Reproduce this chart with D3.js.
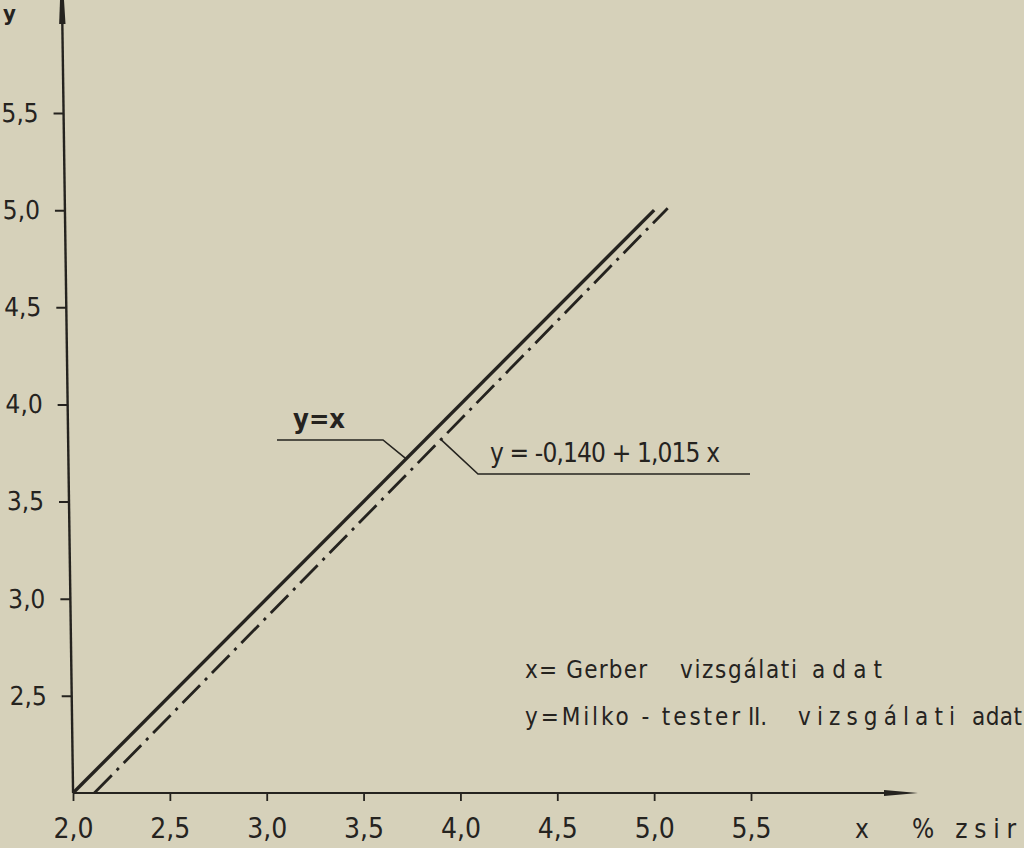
<!DOCTYPE html>
<html>
<head>
<meta charset="utf-8">
<script src="https://cdn.jsdelivr.net/npm/d3@7"></script>
<style>
  html, body { margin: 0; padding: 0; background: #d6d1ba; }
  svg { display: block; }
  text { font-family: "DejaVu Sans Condensed", "DejaVu Sans", sans-serif; font-stretch: condensed; fill: #25231f; }
</style>
</head>
<body>
<script>
// values
var xTicks = [2.0, 2.5, 3.0, 3.5, 4.0, 4.5, 5.0, 5.5];
var yTicks = [2.5, 3.0, 3.5, 4.0, 4.5, 5.0, 5.5];

// y = x
var identityLine = [
  {x: 2.00, y: 2.00},
  {x: 5.00, y: 5.00}
];

// y = -0,140 + 1,015 x  (ends as drawn)
var fitLine = [
  {x: 2.11, y: 2.00},
  {x: 5.07, y: 5.01}
];

var identityLabel = "y=x";
var fitLabel = "y = -0,140 + 1,015 x";
var legendWords = [
  ["x= Gerber", "vizsgálati", "adat"],
  ["y=Milko - tester", "II.", "vizsgálati", "adat"]
];

var svgWidth = 1024;
var svgHeight = 848;
var ink = "#25231f";

var svg = d3.select("body")
  .append("svg")
  .attr("width", svgWidth)
  .attr("height", svgHeight);

svg.append("rect")
  .attr("width", svgWidth)
  .attr("height", svgHeight)
  .attr("fill", "#d6d1ba");

var xScale = d3.scaleLinear().domain([2.0, 5.5]).range([73, 751]);
var yScale = d3.scaleLinear().domain([2.0, 5.5]).range([793, 113]);

var comma = function(d) { return d3.format(".1f")(d).replace(".", ","); };

// x axis
var bottomAxis = d3.axisBottom(xScale)
  .tickValues(xTicks)
  .tickFormat(comma)
  .tickSize(8)
  .tickSizeOuter(0)
  .tickPadding(17);

var xAxisG = svg.append("g")
  .attr("transform", `translate(0, ${yScale(2.0)})`)
  .call(bottomAxis);

xAxisG.select(".domain").remove();
xAxisG.selectAll(".tick line").attr("stroke", ink).attr("stroke-width", 1.8);
xAxisG.selectAll(".tick text")
  .attr("font-size", 28)
  .attr("fill", ink)
  .style("font-family", null);

xAxisG.append("line")
  .attr("x1", xScale(2.0)).attr("x2", 895)
  .attr("y1", 0).attr("y2", 0)
  .attr("stroke", ink).attr("stroke-width", 2);

xAxisG.append("polygon")
  .attr("points", "884,-3 918,0 884,3")
  .attr("fill", ink);

// y axis, slightly leaning like the hand drawing
var leftAxis = d3.axisLeft(yScale)
  .tickValues(yTicks)
  .tickFormat(comma)
  .tickSize(10)
  .tickSizeOuter(0)
  .tickPadding(15);

var yAxisG = svg.append("g")
  .attr("transform", "translate(62, 0) skewX(0.8)")
  .call(leftAxis);

yAxisG.select(".domain").remove();
yAxisG.selectAll(".tick line").attr("stroke", ink).attr("stroke-width", 2);
yAxisG.selectAll(".tick text")
  .attr("font-size", 26)
  .attr("fill", ink)
  .style("font-family", null);

yAxisG.append("line")
  .attr("x1", 0).attr("x2", 0)
  .attr("y1", 0).attr("y2", yScale(2.0))
  .attr("stroke", ink).attr("stroke-width", 2.4);

yAxisG.append("polygon")
  .attr("points", "0,-40 3.2,24 -3.2,24")
  .attr("fill", ink);

// axis names
svg.append("text")
  .attr("x", 3).attr("y", 21)
  .attr("font-size", 22)
  .attr("font-weight", "bold")
  .text("y");

svg.append("text")
  .attr("x", 855).attr("y", 838)
  .attr("font-size", 26)
  .text("x");

svg.append("text")
  .attr("x", 912).attr("y", 838)
  .attr("font-size", 26)
  .attr("textLength", 104)
  .attr("lengthAdjust", "spacing")
  .text("% zsir");

// lines
var line = d3.line()
  .x(d => xScale(d.x))
  .y(d => yScale(d.y));

svg.append("path")
  .datum(identityLine)
  .attr("d", line)
  .attr("fill", "none")
  .attr("stroke", ink)
  .attr("stroke-width", 3.4);

svg.append("path")
  .datum(fitLine)
  .attr("d", line)
  .attr("fill", "none")
  .attr("stroke", ink)
  .attr("stroke-width", 2.8)
  .attr("stroke-dasharray", "25,7,3,7");

// leader for y = x
var idPt = {x: 3.72, y: 3.72};
svg.append("polyline")
  .attr("points", [[277, 440], [383, 440], [xScale(idPt.x), yScale(idPt.y)]].join(" "))
  .attr("fill", "none")
  .attr("stroke", ink)
  .attr("stroke-width", 1.6);

svg.append("text")
  .attr("x", 293).attr("y", 428)
  .attr("font-size", 26)
  .attr("font-weight", "bold")
  .attr("textLength", 52)
  .attr("lengthAdjust", "spacingAndGlyphs")
  .text(identityLabel);

// leader for the fitted line
var fitPt = {x: 3.90, y: -0.140 + 1.015 * 3.90};
svg.append("polyline")
  .attr("points", [[xScale(fitPt.x), yScale(fitPt.y)], [478, 474], [750, 474]].join(" "))
  .attr("fill", "none")
  .attr("stroke", ink)
  .attr("stroke-width", 1.6);

svg.append("text")
  .attr("x", 490).attr("y", 462)
  .attr("font-size", 26)
  .attr("textLength", 230)
  .attr("lengthAdjust", "spacing")
  .text(fitLabel);

// legend text, words spread like the lettering on the sheet
var wordX = [[525, 680, 812], [525, 748, 798, 972]];
var wordW = [[122, 117, 70], [215, 19, 157, 50]];

svg.selectAll("text.legend")
  .data(legendWords)
  .enter()
  .append("text")
  .attr("class", "legend")
  .attr("y", (d, i) => 678 + i * 47)
  .attr("font-size", 24)
  .each(function(words, i) {
    d3.select(this).selectAll("tspan")
      .data(words)
      .enter()
      .append("tspan")
      .attr("x", (w, j) => wordX[i][j])
      .attr("textLength", (w, j) => wordW[i][j])
      .attr("lengthAdjust", "spacing")
      .text(w => w);
  });
</script>
</body>
</html>
